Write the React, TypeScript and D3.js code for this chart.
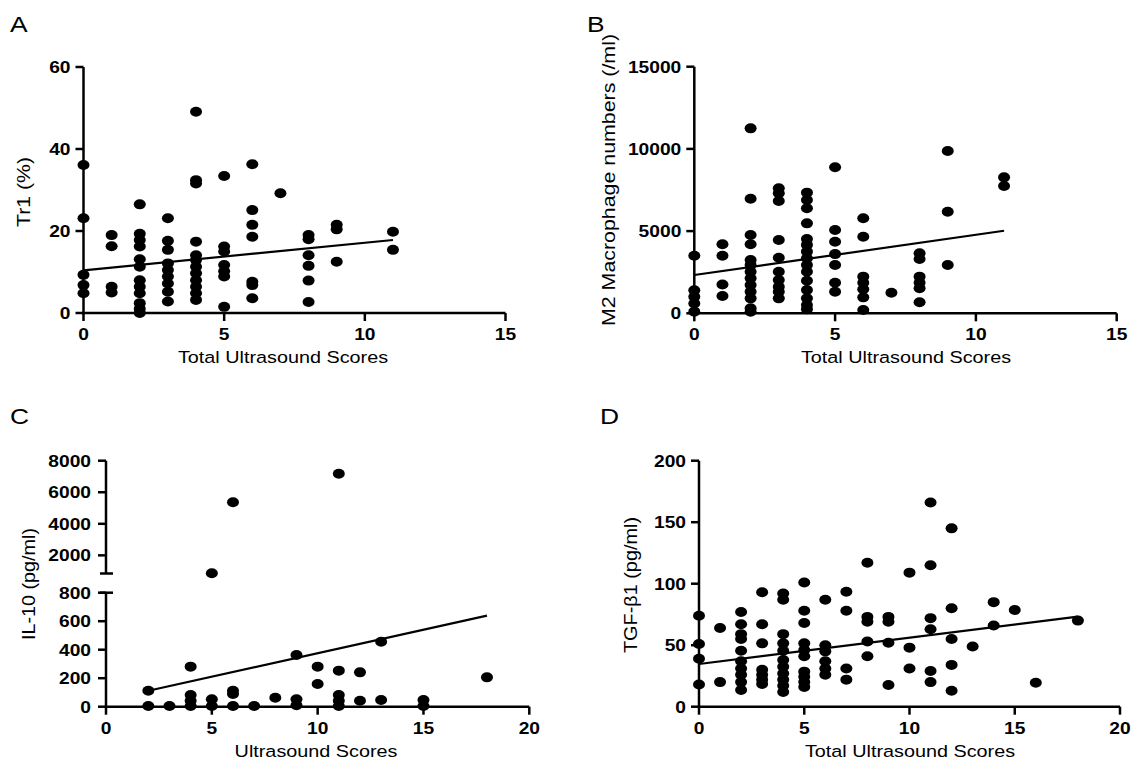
import React from 'react';
import * as d3 from 'd3';

// ---------- DATA ----------
const scoresA = [0, 1, 2, 3, 4, 5, 6, 7, 8, 9, 11];
const tr1Values = [
  [36.1, 23.1, 9.3, 6.8, 4.8],
  [19.0, 16.3, 6.4, 5.0],
  [26.5, 19.3, 17.8, 16.2, 13.1, 11.3, 8.0, 6.4, 4.8, 2.4, 1.0, 0],
  [23.1, 17.6, 15.4, 12.1, 10.5, 8.9, 7.2, 5.2, 2.8],
  [49.1, 32.4, 31.6, 17.4, 14.1, 12.9, 11.3, 9.7, 8.0, 6.4, 4.8, 3.2],
  [33.4, 16.2, 15.0, 11.7, 10.2, 8.9, 1.5],
  [36.3, 25.1, 21.5, 18.6, 7.6, 6.8, 3.6],
  [29.2],
  [19.0, 18.0, 14.1, 11.5, 7.9, 2.7],
  [21.5, 20.4, 12.5],
  [19.8, 15.4],
];
const fitAX = [0, 11];
const fitAY = [10.4, 17.8];
const xTicksA = [0, 5, 10, 15];
const yTicksA = [0, 20, 40, 60];

const scoresB = [0, 1, 2, 3, 4, 5, 6, 7, 8, 9, 11];
const m2Values = [
  [3500, 1400, 1000, 600, 100],
  [4200, 3500, 1750, 1050],
  [11250, 6970, 4760, 4200, 3240, 2940, 2530, 2130, 1720, 1310, 910, 300, 100],
  [7600, 7300, 6830, 4460, 3380, 2530, 2030, 1620, 1310, 910],
  [7340, 6890, 6390, 5470, 4520, 4160, 3750, 3350, 2940, 2530, 1980, 1420, 910, 500, 240],
  [8880, 5070, 4350, 3600, 2940, 1860, 1310],
  [5780, 4660, 2230, 1860, 1460, 970, 200],
  [1250],
  [3650, 3300, 2230, 1860, 1520, 670],
  [9870, 6180, 2940],
  [8270, 7740],
];
const fitBX = [0, 11];
const fitBY = [2330, 5020];
const xTicksB = [0, 5, 10, 15];
const yTicksB = [0, 5000, 10000, 15000];

const scoresC = [2, 3, 4, 5, 6, 7, 8, 9, 10, 11, 12, 13, 15, 18];
const il10Values = [
  [112, 5],
  [5],
  [281, 82, 42, 5],
  [870, 52, 5],
  [5370, 112, 89, 5],
  [5],
  [63],
  [363, 52, 10],
  [281, 159],
  [7170, 253, 82, 42, 5],
  [241, 42],
  [456, 47],
  [47, 5],
  [206],
];
const fitCX = [2, 18];
const fitCY = [112, 639];
const xTicksC = [0, 5, 10, 15, 20];
const yTicksCLow = [0, 200, 400, 600, 800];
const yTicksCHigh = [2000, 4000, 6000, 8000];

const scoresD = [0, 1, 2, 3, 4, 5, 6, 7, 8, 9, 10, 11, 12, 13, 14, 15, 16, 18];
const tgfValues = [
  [74, 51, 39, 18],
  [64, 20],
  [77, 67, 59, 55, 45.5, 37, 31, 26, 20, 13.6],
  [93, 67, 51.5, 30, 26, 22, 18.5],
  [92, 87, 59, 51.5, 45.5, 38, 32.5, 27, 22, 17, 12],
  [101, 78, 68, 51.5, 46, 41, 28.5, 24.4, 20, 16],
  [87, 50, 45, 37, 31, 26],
  [93.5, 78, 31, 22],
  [117, 73, 69, 53, 41],
  [73, 69, 52, 17.6],
  [109, 48, 31],
  [166, 115, 72, 63, 29, 20],
  [145, 80, 55, 34, 13],
  [49],
  [85, 66],
  [78.6],
  [19.5],
  [70],
];
const fitDX = [0, 18];
const fitDY = [34.7, 73.2];
const xTicksD = [0, 5, 10, 15, 20];
const yTicksD = [0, 50, 100, 150, 200];

// ---------- STYLE ----------
const FONT = "'Liberation Sans', Arial, Helvetica, sans-serif";
const SX = 1.2;
const AXW = 2.5;
const TICK = 8;

type Seg = { domain: [number, number]; range: [number, number]; ticks: number[]; capTop?: boolean; capBottom?: boolean };

type Cfg = {
  letter: string;
  letterPos: [number, number];
  xRange: [number, number];
  xDomain: [number, number];
  xTicks: number[];
  segs: Seg[];
  scores: number[];
  values: number[][];
  fitX: number[];
  fitY: number[];
  yTitle: string;
  yTitlePos: [number, number];
  yTitleLen: number;
  xTitle: string;
  xTitleX: number;
  labelGap: number;
};

function Panel({ c }: { c: Cfg }) {
  const x = d3.scaleLinear().domain(c.xDomain).range(c.xRange);
  const scales = c.segs.map((s) => d3.scaleLinear().domain(s.domain).range(s.range));
  const yPos = (v: number) => {
    for (let i = c.segs.length - 1; i >= 0; i--) {
      if (v >= c.segs[i].domain[0] || i === 0) return scales[i](v);
    }
    return scales[0](v);
  };
  const ax = c.xRange[0];
  const ay = c.segs[0].range[0];
  const pts: { sx: number; v: number }[] = [];
  c.scores.forEach((s, i) => c.values[i].forEach((v) => pts.push({ sx: s, v })));
  const line = d3
    .line<number>()
    .x((_, i) => x(c.fitX[i]))
    .y((d) => yPos(d));
  return (
    <g>
      <text transform={`translate(${c.letterPos[0]},${c.letterPos[1]}) scale(${SX},1)`} fontSize={22} fontFamily={FONT}>
        {c.letter}
      </text>
      {c.segs.map((s, i) => {
        const sc = scales[i];
        return (
          <g key={i}>
            <line x1={ax} x2={ax} y1={s.range[0] + (i === 0 ? AXW / 2 : 0)} y2={s.range[1]} stroke="#000" strokeWidth={AXW} />
            {s.capBottom && <line x1={ax - 6} x2={ax + 7} y1={s.range[0]} y2={s.range[0]} stroke="#000" strokeWidth={AXW} />}
            {s.capTop && <line x1={ax - 6} x2={ax + 7} y1={s.range[1]} y2={s.range[1]} stroke="#000" strokeWidth={AXW} />}
            {s.ticks.map((t) => (
              <g key={t}>
                <line x1={ax - TICK} x2={ax} y1={sc(t)} y2={sc(t)} stroke="#000" strokeWidth={AXW} />
                <text
                  transform={`translate(${ax - c.labelGap},${sc(t) + 5.8}) scale(${SX},1)`}
                  textAnchor="end"
                  fontSize={16}
                  fontWeight="bold"
                  fontFamily={FONT}
                >
                  {t}
                </text>
              </g>
            ))}
          </g>
        );
      })}
      <line x1={ax - AXW / 2} x2={c.xRange[1]} y1={ay} y2={ay} stroke="#000" strokeWidth={AXW} />
      {c.xTicks.map((t) => (
        <g key={t}>
          <line x1={x(t)} x2={x(t)} y1={ay} y2={ay + TICK} stroke="#000" strokeWidth={AXW} />
          <text
            transform={`translate(${x(t)},${ay + 27}) scale(${SX},1)`}
            textAnchor="middle"
            fontSize={16}
            fontWeight="bold"
            fontFamily={FONT}
          >
            {t}
          </text>
        </g>
      ))}
      {pts.map((p, i) => (
        <ellipse key={i} cx={x(p.sx)} cy={yPos(p.v)} rx={6} ry={5} fill="#000" />
      ))}
      <path d={line(c.fitY) || ''} fill="none" stroke="#000" strokeWidth={2.2} />
      <text
        transform={`translate(${c.yTitlePos[0]},${c.yTitlePos[1]}) rotate(-90)`}
        textAnchor="middle"
        fontSize={18.5}
        fontFamily={FONT}
        textLength={c.yTitleLen}
        lengthAdjust="spacingAndGlyphs"
      >
        {c.yTitle}
      </text>
      <text
        transform={`translate(${c.xTitleX},${ay + 50}) scale(${SX},1)`}
        textAnchor="middle"
        fontSize={16.5}
        fontFamily={FONT}
      >
        {c.xTitle}
      </text>
    </g>
  );
}

const cfgA: Cfg = {
  letter: 'A',
  letterPos: [10, 32],
  xRange: [83.5, 505.5],
  xDomain: [0, 15],
  xTicks: xTicksA,
  segs: [{ domain: [0, 60], range: [313, 67], ticks: yTicksA }],
  scores: scoresA,
  values: tr1Values,
  fitX: fitAX,
  fitY: fitAY,
  yTitle: 'Tr1 (%)',
  yTitlePos: [30, 192],
  yTitleLen: 70,
  xTitle: 'Total Ultrasound Scores',
  xTitleX: 283,
  labelGap: 13,
};

const cfgB: Cfg = {
  letter: 'B',
  letterPos: [587, 32],
  xRange: [694.3, 1116.7],
  xDomain: [0, 15],
  xTicks: xTicksB,
  segs: [{ domain: [0, 15000], range: [313.3, 66.7], ticks: yTicksB }],
  scores: scoresB,
  values: m2Values,
  fitX: fitBX,
  fitY: fitBY,
  yTitle: 'M2 Macrophage numbers (/ml)',
  yTitlePos: [615, 180],
  yTitleLen: 292,
  xTitle: 'Total Ultrasound Scores',
  xTitleX: 906,
  labelGap: 13,
};

const cfgC: Cfg = {
  letter: 'C',
  letterPos: [10, 424],
  xRange: [106, 529.3],
  xDomain: [0, 20],
  xTicks: xTicksC,
  segs: [
    { domain: [0, 800], range: [706.7, 592.7], ticks: yTicksCLow, capTop: true },
    { domain: [850, 8000], range: [573.5, 460.7], ticks: yTicksCHigh, capBottom: true },
  ],
  scores: scoresC,
  values: il10Values,
  fitX: fitCX,
  fitY: fitCY,
  yTitle: 'IL-10 (pg/ml)',
  yTitlePos: [35, 584],
  yTitleLen: 112,
  xTitle: 'Ultrasound Scores',
  xTitleX: 316,
  labelGap: 15,
};

const cfgD: Cfg = {
  letter: 'D',
  letterPos: [600, 424],
  xRange: [699, 1120],
  xDomain: [0, 20],
  xTicks: xTicksD,
  segs: [{ domain: [0, 200], range: [706.7, 460.7], ticks: yTicksD }],
  scores: scoresD,
  values: tgfValues,
  fitX: fitDX,
  fitY: fitDY,
  yTitle: 'TGF-β1 (pg/ml)',
  yTitlePos: [636.5, 585],
  yTitleLen: 136,
  xTitle: 'Total Ultrasound Scores',
  xTitleX: 910,
  labelGap: 13,
};

export default function App() {
  return (
    <svg
      width={1136}
      height={767}
      viewBox="0 0 1136 767"
      style={{ position: 'absolute', left: 0, top: 0, background: '#fff' }}
    >
      <rect x={0} y={0} width={1136} height={767} fill="#fff" />
      <Panel c={cfgA} />
      <Panel c={cfgB} />
      <Panel c={cfgC} />
      <Panel c={cfgD} />
    </svg>
  );
}
